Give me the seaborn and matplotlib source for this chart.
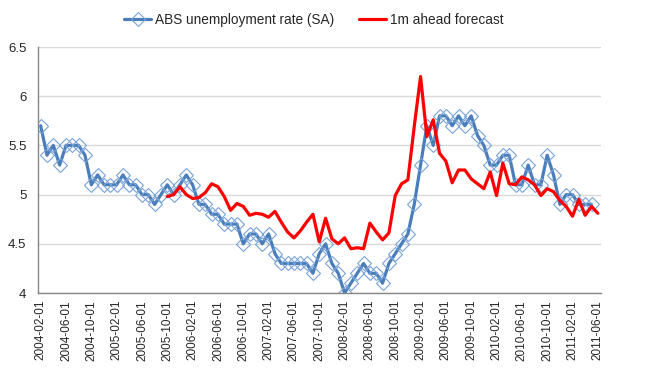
import seaborn as sns
import matplotlib.pyplot as plt
from matplotlib.ticker import FixedLocator
import pandas as pd

# monthly categories, 2004-02 .. 2011-06
months = pd.date_range("2004-02-01", "2011-06-01", freq="MS").strftime("%Y-%m-%d").tolist()

# ABS unemployment rate (SA), 2004-02 .. 2011-05
abs_rate = [
    5.7, 5.4, 5.5, 5.3, 5.5, 5.5, 5.5, 5.4, 5.1, 5.2,
    5.1, 5.1, 5.1, 5.2, 5.1, 5.1, 5.0, 5.0, 4.9, 5.0,
    5.1, 5.0, 5.1, 5.2, 5.1, 4.9, 4.9, 4.8, 4.8, 4.7,
    4.7, 4.7, 4.5, 4.6, 4.6, 4.5, 4.6, 4.4, 4.3, 4.3,
    4.3, 4.3, 4.3, 4.2, 4.4, 4.5, 4.3, 4.2, 4.0, 4.1,
    4.2, 4.3, 4.2, 4.2, 4.1, 4.3, 4.4, 4.5, 4.6, 4.9,
    5.3, 5.7, 5.5, 5.8, 5.8, 5.7, 5.8, 5.7, 5.8, 5.6,
    5.5, 5.3, 5.3, 5.4, 5.4, 5.1, 5.1, 5.3, 5.1, 5.1,
    5.4, 5.2, 4.9, 5.0, 5.0, 4.9, 4.9, 4.9,
]

# 1m ahead forecast, 2005-10 .. 2011-06
forecast_start = "2005-10-01"
forecast = [
    4.98, 5.00, 5.08, 5.00, 4.96, 4.97, 5.02, 5.11, 5.08, 4.98,
    4.84, 4.91, 4.88, 4.79, 4.81, 4.80, 4.77, 4.83, 4.72, 4.62,
    4.56, 4.63, 4.72, 4.80, 4.52, 4.76, 4.55, 4.50, 4.56, 4.45,
    4.46, 4.45, 4.71, 4.62, 4.54, 4.61, 4.99, 5.11, 5.15, 5.69,
    6.20, 5.59, 5.76, 5.42, 5.34, 5.12, 5.25, 5.25, 5.16, 5.11,
    5.06, 5.23, 4.99, 5.32, 5.11, 5.10, 5.18, 5.15, 5.10, 4.99,
    5.06, 5.03, 4.94, 4.88, 4.78, 4.95, 4.79, 4.88, 4.81,
]

y_ticks = [4, 4.5, 5, 5.5, 6, 6.5]
y_labels = ["4", "4.5", "5", "5.5", "6", "6.5"]

sns.set_style("white")
plt.rcParams["font.family"] = ["Liberation Sans", "DejaVu Sans"]

pos = list(range(len(months)))
df_abs = pd.DataFrame({"pos": pos[: len(abs_rate)], "rate": abs_rate})
f0 = months.index(forecast_start)
df_fc = pd.DataFrame({"pos": pos[f0 : f0 + len(forecast)], "rate": forecast})

fig = plt.figure(figsize=(6.53, 3.78), dpi=100)
ax = fig.add_axes([37.5 / 653, 1 - 293 / 378, (601 - 37.5) / 653, (293 - 47) / 378])

sns.lineplot(
    data=df_abs, x="pos", y="rate", ax=ax, color="#4A7EBB", linewidth=2.3,
    marker="D", markersize=7.4, markerfacecolor="none", markeredgecolor="#7AA3D8",
    markeredgewidth=0.8, label="ABS unemployment rate (SA)", legend=False,
)
sns.lineplot(
    data=df_fc, x="pos", y="rate", ax=ax, color="#FF0000", linewidth=2.3,
    label="1m ahead forecast", legend=False,
)

ax.set_xlim(-0.5, len(months) - 0.5)
ax.set_ylim(4, 6.5)
ax.set_yticks(y_ticks)
ax.set_yticklabels(y_labels, fontsize=9.5)
ax.yaxis.grid(True, color="#D9D9D9", linewidth=1)
ax.set_axisbelow(True)

ax.xaxis.set_major_locator(FixedLocator(pos[::4]))
ax.set_xticklabels(months[::4], rotation=90, fontsize=8.5)
ax.xaxis.set_minor_locator(FixedLocator([p - 0.5 for p in pos[::4]]))
ax.tick_params(axis="x", which="major", length=0, pad=5)
ax.tick_params(axis="x", which="minor", length=4, color="#868686", width=1)
ax.tick_params(axis="y", length=4, color="#868686", width=1, pad=4)
ax.set_xlabel("")
ax.set_ylabel("")

for side in ["top", "right"]:
    ax.spines[side].set_visible(False)
for side in ["left", "bottom"]:
    ax.spines[side].set_color("#868686")
    ax.spines[side].set_linewidth(1)

handles, labels = ax.get_legend_handles_labels()
fig.legend(
    handles, labels, loc="center", bbox_to_anchor=(314 / 653, 1 - 20 / 378),
    ncol=2, frameon=False, fontsize=9.8, handlelength=2.0, handletextpad=0.3,
    columnspacing=1.8,
)

fig.savefig("out.png", dpi=100)
